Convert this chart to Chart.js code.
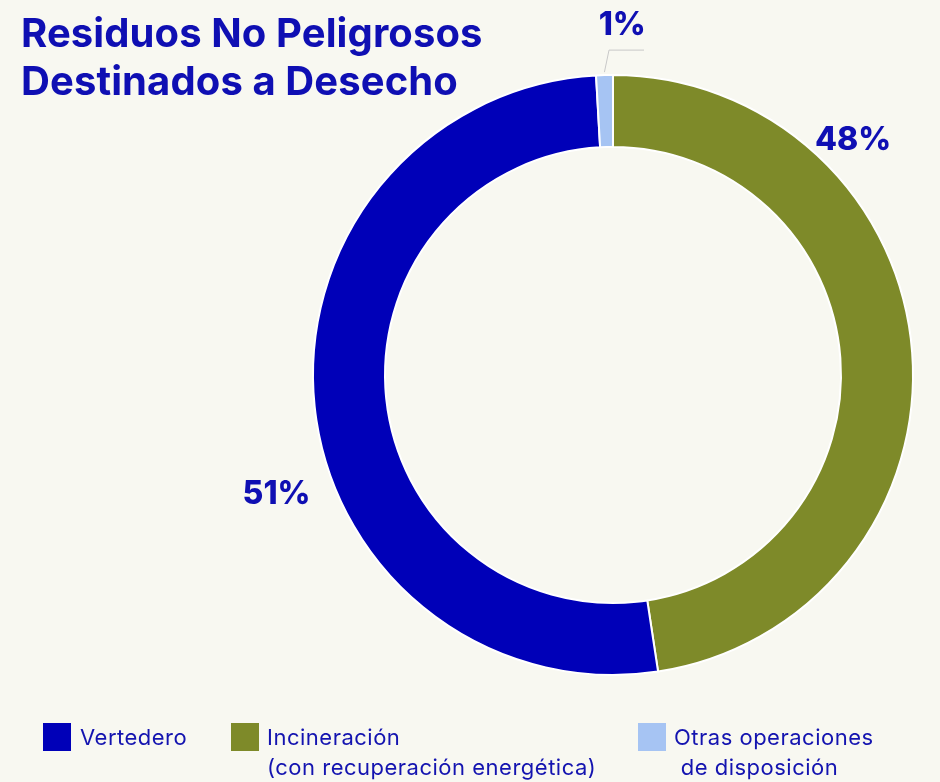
<!DOCTYPE html>
<html>
<head>
<meta charset="utf-8">
<script src="https://cdn.jsdelivr.net/npm/chart.js@4.4.0/dist/chart.umd.min.js"></script>
<style>
    html, body { margin: 0; padding: 0; background: #f8f8f1; }
    #wrap { position: relative; width: 940px; height: 782px; overflow: hidden; }
    #chart { position: absolute; left: 0; top: 0; }
    .title {
        position: absolute; left: 21px; top: 9px;
        font-family: Inter, sans-serif; font-weight: 700; font-size: 40px;
        line-height: 48px; color: #0f0fb3; letter-spacing: 0.1px;
    }
    .leg { position: absolute; top: 723px; font-family: Inter, sans-serif; font-size: 22px; line-height: 30px; color: #1414b0; letter-spacing: 0.5px; }
    .leg .box { position: absolute; left: 0; top: 0; width: 28px; height: 28px; }
    .leg .txt { position: absolute; top: -1px; white-space: pre; }
</style>
</head>
<body>
<div id="wrap">
    <canvas id="chart" width="940" height="782"></canvas>
    <div class="title">Residuos No Peligrosos<br>Destinados a Desecho</div>
    <div id="legend"></div>
</div>
<script>
// data
let cats = ['Incineración\n(con recuperación energética)', 'Vertedero', 'Otras operaciones\n de disposición'];
let vals = [47.6, 51.5, 0.9];
let pctLabels = ['48%', '51%', '1%'];
let colors = ['#7e8a29', '#0000b8', '#a6c4f3'];
let legendOrder = [1, 0, 2];

// where each % label sits: angle from top (deg), distance in radii
let labelPos = [[45.6, 1.12], [250.5, 1.19], [1.5, 1.167]];

let legendX = [43, 231, 638];
let legendHtml = '';
legendOrder.forEach(function (idx, k) {
    legendHtml += '<div class="leg" style="left:' + legendX[k] + 'px">' +
        '<div class="box" style="background:' + colors[idx] + '"></div>' +
        '<div class="txt" style="left:' + (k == 0 ? 37 : 36) + 'px">' + cats[idx] + '</div></div>';
});
document.getElementById('legend').innerHTML = legendHtml;

const pctPlugin = {
    id: 'pct',
    afterDatasetsDraw(chart) {
        const c = chart.ctx;
        const arcs = chart.getDatasetMeta(0).data;
        const cx = arcs[0].x, cy = arcs[0].y, R = arcs[0].outerRadius;
        c.save();
        c.font = '800 32px Inter, sans-serif';
        c.fillStyle = '#0f0fb3';
        c.textAlign = 'center';
        c.textBaseline = 'middle';
        pctLabels.forEach(function (t, i) {
            let a = labelPos[i][0] * Math.PI / 180;
            let d = labelPos[i][1] * R;
            c.fillText(t, cx + Math.sin(a) * d, cy - Math.cos(a) * d);
        });
        // leader line for the small slice
        const small = arcs[2];
        const mid = (small.startAngle + small.endAngle) / 2;
        const x0 = cx + Math.cos(mid) * (R + 3), y0 = cy + Math.sin(mid) * (R + 3);
        const ex = cx - 4, ey = cy - R * 1.083;
        c.strokeStyle = '#c8c8c8';
        c.lineWidth = 1;
        c.beginPath();
        c.moveTo(x0, y0);
        c.lineTo(ex, ey);
        c.lineTo(ex + 35, ey);
        c.stroke();
        c.restore();
    }
};

new Chart(document.getElementById('chart'), {
    type: 'doughnut',
    data: {
        labels: cats,
        datasets: [{
            data: vals,
            backgroundColor: colors,
            borderColor: '#ffffff',
            borderWidth: 2
        }]
    },
    options: {
        responsive: false,
        animation: false,
        cutout: '76%',
        layout: {
            padding: { left: 312, right: 26, top: 74, bottom: 106 }
        },
        plugins: {
            legend: { display: false },
            tooltip: { enabled: false }
        }
    },
    plugins: [pctPlugin]
});
</script>
</body>
</html>
